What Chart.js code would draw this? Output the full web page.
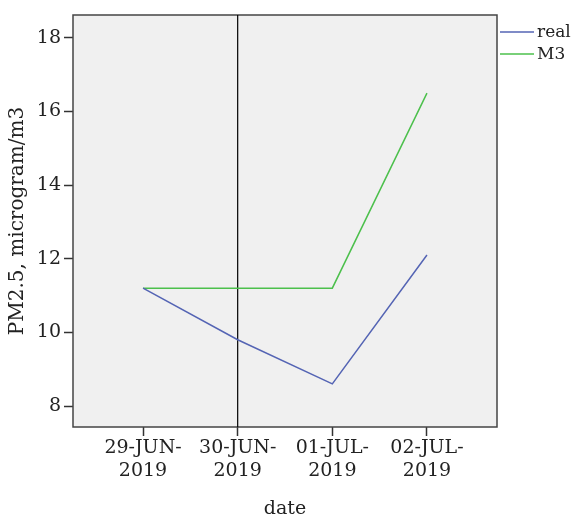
<!DOCTYPE html>
<html>
<head>
<meta charset="utf-8">
<script src="https://cdn.jsdelivr.net/npm/chart.js@4.4.1/dist/chart.umd.min.js"></script>
<style>
  html, body { margin: 0; padding: 0; background: #fff; }
  #wrap { width: 575px; height: 516px; }
</style>
</head>
<body>
<div id="wrap"><canvas id="chart" width="575" height="516"></canvas></div>
<script>
// data
const dates = [['29-JUN-', '2019'], ['30-JUN-', '2019'], ['01-JUL-', '2019'], ['02-JUL-', '2019']];
const realValues = [11.2, 9.8, 8.6, 12.1];
const m3Values = [11.2, 11.2, 11.2, 16.5];
const yTicks = [8, 10, 12, 14, 16, 18];
const markedDate = 1; // vertical reference line at 30-JUN-2019

const serif = '"DejaVu Serif", "Liberation Serif", serif';

// plot background, frame, reference line and legend
const framePlugin = {
    id: 'frame',
    beforeDatasetsDraw(chart) {
        const { ctx, chartArea: a } = chart;
        ctx.save();
        ctx.fillStyle = '#f0f0f0';
        ctx.fillRect(a.left, a.top, a.right - a.left, a.bottom - a.top);
        ctx.strokeStyle = '#444';
        ctx.lineWidth = 1.5;
        ctx.strokeRect(a.left, a.top, a.right - a.left, a.bottom - a.top);
        const x = chart.scales.x.getPixelForValue(markedDate);
        ctx.strokeStyle = '#000';
        ctx.lineWidth = 1.2;
        ctx.beginPath();
        ctx.moveTo(x, a.top);
        ctx.lineTo(x, a.bottom);
        ctx.stroke();
        ctx.restore();
    },
    afterDraw(chart) {
        const { ctx, chartArea: a } = chart;
        ctx.save();
        ctx.font = '17px ' + serif;
        ctx.textBaseline = 'middle';
        chart.data.datasets.forEach((ds, i) => {
            const y = a.top + 17 + i * 22;
            ctx.strokeStyle = ds.borderColor;
            ctx.lineWidth = 1.5;
            ctx.beginPath();
            ctx.moveTo(a.right + 3, y);
            ctx.lineTo(a.right + 37, y);
            ctx.stroke();
            ctx.fillStyle = '#222';
            ctx.fillText(ds.label, a.right + 40, y + 1);
        });
        ctx.restore();
    }
};

const config = {
    type: 'line',
    data: {
        datasets: [
            {
                label: 'real',
                data: realValues.map((v, i) => ({ x: i, y: v })),
                borderColor: '#5464b4',
                borderWidth: 1.5,
                pointRadius: 0,
                tension: 0
            },
            {
                label: 'M3',
                data: m3Values.map((v, i) => ({ x: i, y: v })),
                borderColor: '#4cc04c',
                borderWidth: 1.5,
                pointRadius: 0,
                tension: 0
            }
        ]
    },
    options: {
        responsive: false,
        animation: false,
        layout: { padding: { top: 15, right: 78, left: 0, bottom: 0 } },
        plugins: {
            legend: { display: false },
            tooltip: { enabled: false }
        },
        scales: {
            x: {
                type: 'linear',
                min: -0.74,
                max: 3.74,
                afterBuildTicks: (scale) => { scale.ticks = dates.map((d, i) => ({ value: i })); },
                afterFit: (scale) => { scale.height = 89; },
                grid: { drawOnChartArea: false, tickLength: 9, tickColor: '#333', tickWidth: 1.5 },
                border: { display: false },
                ticks: {
                    autoSkip: false,
                    maxRotation: 0,
                    padding: 1,
                    color: '#222',
                    font: { family: serif, size: 19, lineHeight: 1.2 },
                    callback: (v) => dates[v]
                },
                title: {
                    display: true,
                    text: 'date',
                    color: '#222',
                    font: { family: serif, size: 19, lineHeight: 0.75 },
                    padding: { top: 0, bottom: 0 }
                }
            },
            y: {
                min: 7.43,
                max: 18.62,
                afterBuildTicks: (scale) => { scale.ticks = yTicks.map(v => ({ value: v })); },
                afterFit: (scale) => { scale.width = 73; },
                grid: { drawOnChartArea: false, tickLength: 9, tickColor: '#333', tickWidth: 1.5 },
                border: { display: false },
                ticks: {
                    padding: 3,
                    color: '#222',
                    font: { family: serif, size: 19 }
                },
                title: {
                    display: true,
                    text: 'PM2.5, microgram/m3',
                    color: '#222',
                    font: { family: serif, size: 20, lineHeight: 1.0 },
                    padding: { top: 8, bottom: 0 }
                }
            }
        }
    },
    plugins: [framePlugin]
};

const myChart = new Chart(document.getElementById('chart'), config);
</script>
</body>
</html>
